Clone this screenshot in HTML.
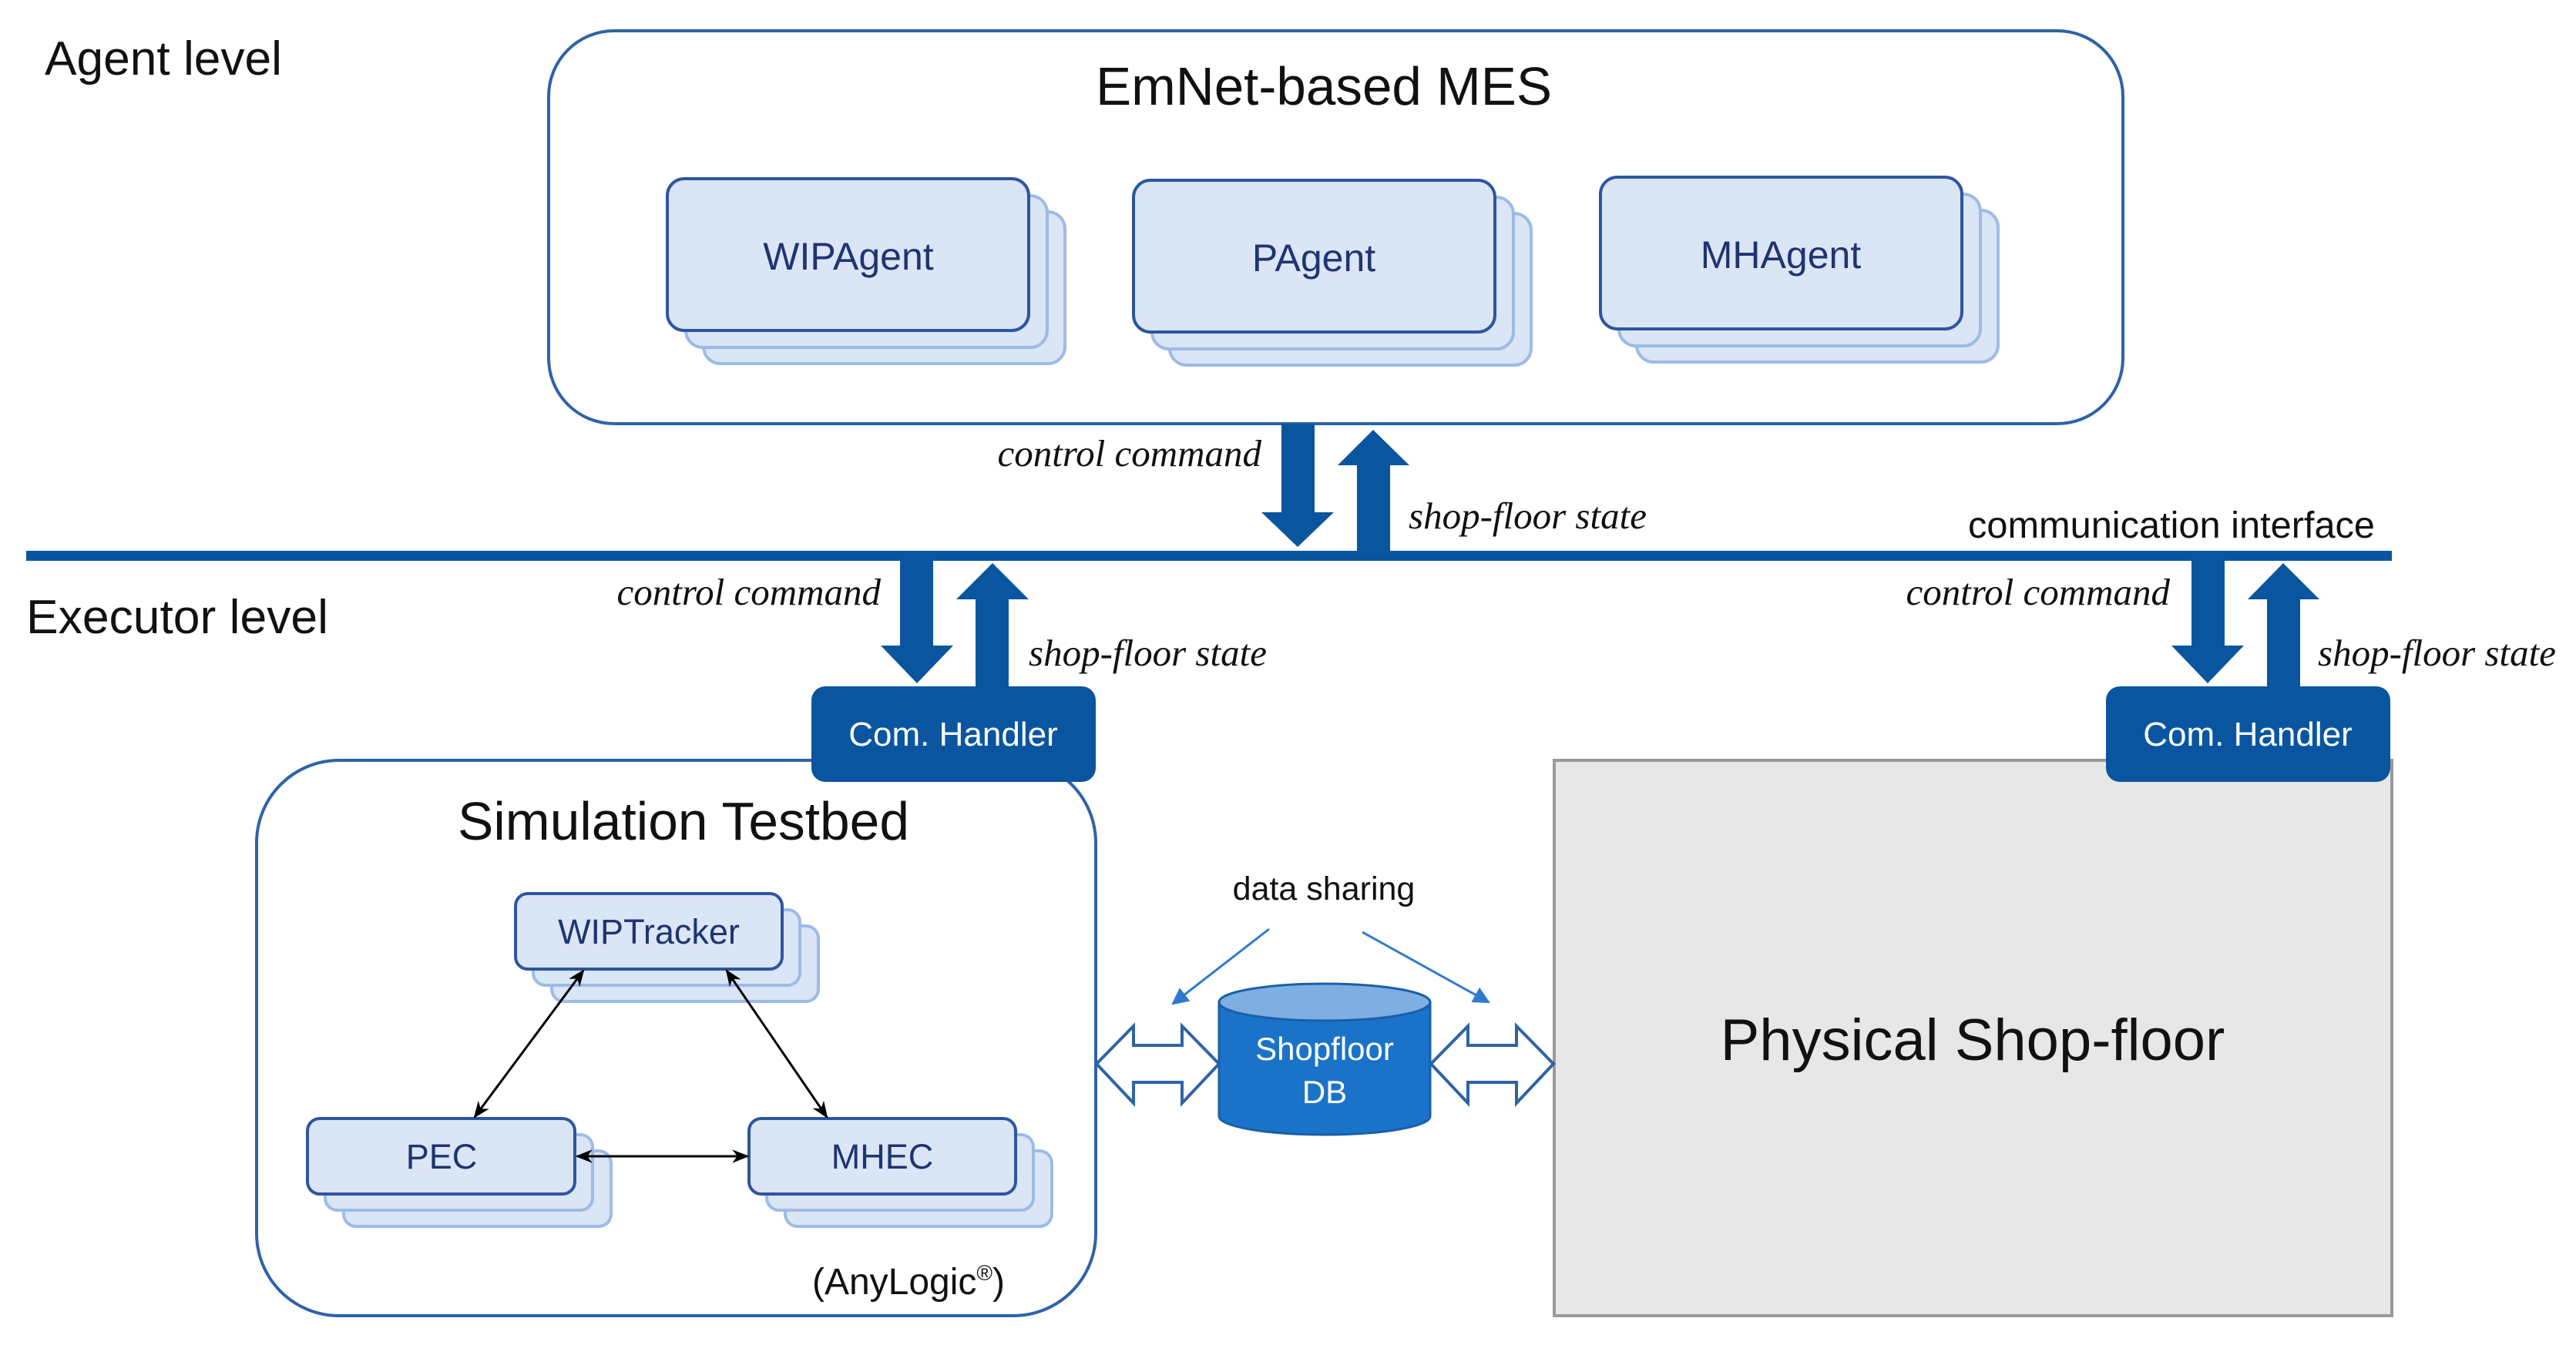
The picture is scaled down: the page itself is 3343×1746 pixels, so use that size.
<!DOCTYPE html>
<html><head><meta charset="utf-8"><style>
html,body{margin:0;padding:0;background:#fff;}
svg{display:block}
.s{font-family:"Liberation Sans",sans-serif;}
.i{font-family:"Liberation Serif",serif;font-style:italic;}
</style></head><body>
<svg width="3343" height="1746" viewBox="0 0 3343 1746" xmlns="http://www.w3.org/2000/svg">
<defs>
<marker id="ah" markerWidth="22" markerHeight="22" refX="9" refY="5" orient="auto-start-reverse" markerUnits="userSpaceOnUse" viewBox="0 0 10 10"><path d="M0,1 L10,5 L0,9 L3,5 Z" fill="#000"/></marker>
<marker id="bh" viewBox="0 0 10 10" refX="9" refY="5" markerWidth="22" markerHeight="22" orient="auto" markerUnits="userSpaceOnUse"><path d="M0,0 L10,5 L0,10 Z" fill="#2f7ad0"/></marker>
</defs>
<rect width="3343" height="1746" fill="#fff"/>
<text x="58" y="97" class="s" font-size="62" fill="#111" textLength="308" lengthAdjust="spacingAndGlyphs">Agent level</text>
<text x="34" y="822" class="s" font-size="62" fill="#111" textLength="392" lengthAdjust="spacingAndGlyphs">Executor level</text>

<rect x="712" y="40" width="2043" height="510" rx="85" fill="#fff" stroke="#2e63a8" stroke-width="4"/>
<text x="1718" y="136" text-anchor="middle" class="s" font-size="70" fill="#111" textLength="592" lengthAdjust="spacingAndGlyphs">EmNet-based MES</text>

<g stroke="#9dbbe6" stroke-width="4" fill="#dae5f6">
<rect x="913" y="275" width="469" height="197" rx="22"/>
<rect x="890" y="254" width="469" height="197" rx="22"/>
<rect x="1518" y="277" width="469" height="197" rx="22"/>
<rect x="1495" y="256" width="469" height="197" rx="22"/>
<rect x="2124" y="273" width="469" height="197" rx="22"/>
<rect x="2101" y="252" width="469" height="197" rx="22"/>
</g>
<g stroke="#2e55a0" stroke-width="4" fill="#dae5f6">
<rect x="866" y="232" width="469" height="197" rx="22"/>
<rect x="1471" y="234" width="469" height="197" rx="22"/>
<rect x="2077" y="230" width="469" height="197" rx="22"/>
</g>
<g class="s" font-size="50" fill="#1f3470" text-anchor="middle">
<text x="1101" y="350">WIPAgent</text>
<text x="1705" y="352">PAgent</text>
<text x="2311" y="348">MHAgent</text>
</g>

<rect x="34" y="715" width="3070" height="13" fill="#0a55a0"/>
<text x="2818" y="698" text-anchor="middle" class="s" font-size="48" fill="#111" textLength="528" lengthAdjust="spacingAndGlyphs">communication interface</text>

<g fill="#0a55a0">
<path d="M1663,550 H1706 V665 H1731 L1684,710 L1637,665 H1663 Z"/>
<path d="M1761,721 V604 H1736 L1782,558 L1829,604 H1804 V721 Z"/>
<path d="M1168,728 H1211 V838 H1237 L1190,887 L1143,838 H1168 Z"/>
<path d="M1266,891 V778 H1241 L1288,731 L1335,778 H1309 V891 Z"/>
<path d="M2844,728 H2887 V838 H2912 L2865,887 L2818,838 H2844 Z"/>
<path d="M2942,891 V778 H2917 L2963,731 L3010,778 H2985 V891 Z"/>
</g>
<g class="i" font-size="49" fill="#111">
<text x="1637" y="605" text-anchor="end">control command</text>
<text x="1828" y="686">shop-floor state</text>
<text x="1143" y="785" text-anchor="end">control command</text>
<text x="1335" y="864">shop-floor state</text>
<text x="2816" y="785" text-anchor="end">control command</text>
<text x="3008" y="864">shop-floor state</text>
</g>

<rect x="333" y="987" width="1089" height="721" rx="107" fill="#fff" stroke="#2e63a8" stroke-width="4"/>
<rect x="2017" y="987" width="1087" height="721" fill="#e7e7e7" stroke="#999" stroke-width="4"/>
<text x="2560" y="1376" text-anchor="middle" class="s" font-size="76" fill="#111">Physical Shop-floor</text>

<rect x="1053" y="891" width="369" height="124" rx="18" fill="#0a55a0"/>
<rect x="2733" y="891" width="369" height="124" rx="18" fill="#0a55a0"/>
<text x="1237" y="968" text-anchor="middle" class="s" font-size="44" fill="#fff">Com. Handler</text>
<text x="2917" y="968" text-anchor="middle" class="s" font-size="44" fill="#fff">Com. Handler</text>

<text x="887" y="1090" text-anchor="middle" class="s" font-size="70" fill="#111" textLength="586" lengthAdjust="spacingAndGlyphs">Simulation Testbed</text>

<g stroke="#9dbbe6" stroke-width="4" fill="#dae5f6">
<rect x="716" y="1202" width="346" height="98" rx="16"/>
<rect x="692" y="1181" width="346" height="98" rx="16"/>
<rect x="446" y="1494" width="347" height="98" rx="16"/>
<rect x="422" y="1473" width="347" height="98" rx="16"/>
<rect x="1019" y="1494" width="346" height="98" rx="16"/>
<rect x="995" y="1473" width="346" height="98" rx="16"/>
</g>
<g stroke="#2e55a0" stroke-width="4" fill="#dae5f6">
<rect x="669" y="1160" width="346" height="98" rx="16"/>
<rect x="399" y="1452" width="347" height="98" rx="16"/>
<rect x="972" y="1452" width="346" height="98" rx="16"/>
</g>
<g class="s" font-size="45" fill="#1f3470" text-anchor="middle">
<text x="842" y="1225">WIPTracker</text>
<text x="573" y="1517">PEC</text>
<text x="1145" y="1517">MHEC</text>
</g>
<g stroke="#000" stroke-width="3" fill="none" marker-start="url(#ah)" marker-end="url(#ah)">
<line x1="757" y1="1260" x2="616" y2="1450"/>
<line x1="943" y1="1260" x2="1073" y2="1450"/>
<line x1="749" y1="1501" x2="970" y2="1501"/>
</g>
<text x="1179" y="1680" text-anchor="middle" class="s" font-size="48" fill="#111">(AnyLogic<tspan font-size="28" dy="-18">®</tspan><tspan dy="18">)</tspan></text>

<text x="1718" y="1168" text-anchor="middle" class="s" font-size="43" fill="#111">data sharing</text>
<g stroke="#2f7ad0" stroke-width="3">
<line x1="1647" y1="1206" x2="1522" y2="1303" marker-end="url(#bh)"/>
<line x1="1768" y1="1210" x2="1932" y2="1301" marker-end="url(#bh)"/>
</g>
<g fill="#fff" stroke="#2e63a8" stroke-width="4" stroke-linejoin="miter">
<path d="M1423,1381 L1471,1332 V1357 H1534 V1332 L1582,1381 L1534,1432 V1405 H1471 V1432 Z"/>
<path d="M1857,1381 L1905,1332 V1357 H1968 V1332 L2016,1381 L1968,1432 V1405 H1905 V1432 Z"/>
</g>
<path d="M1582,1301 V1449 A137,24 0 0 0 1856,1449 V1301 Z" fill="#1a73c8" stroke="#1a5fa8" stroke-width="3"/>
<ellipse cx="1719" cy="1301" rx="137" ry="24" fill="#7eaee2" stroke="#1a5fa8" stroke-width="3"/>
<text x="1719" y="1376" text-anchor="middle" class="s" font-size="42" fill="#fff">Shopfloor</text>
<text x="1719" y="1432" text-anchor="middle" class="s" font-size="42" fill="#fff">DB</text>
</svg>
</body></html>
